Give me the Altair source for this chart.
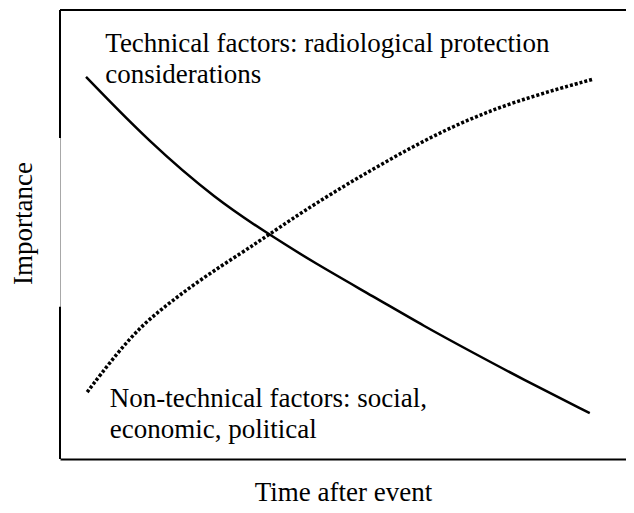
import altair as alt
import pandas as pd

# Technical factors curve (falls with time)
tech_time = [4.6, 15.9, 27.7, 36.6, 44.9, 55.5, 64.3, 73.1, 81.4, 93.6]
tech_imp = [85.1, 70.4, 57.7, 50.3, 43.7, 36.1, 29.6, 23.6, 18.0, 10.2]

# Non-technical factors curve (rises with time)
non_time = [4.8, 7.1, 10.6, 14.1, 17.7, 24.7, 32.3, 36.6, 44.9, 56.7, 68.4, 80.2, 94.2]
non_imp = [14.9, 18.7, 24.3, 29.2, 33.2, 39.9, 46.1, 49.7, 56.8, 65.7, 73.7, 79.7, 84.6]

labels = [["Technical factors: radiological protection", "considerations"],
          ["Non-technical factors: social,", "economic, political"]]
label_time = [8.0, 8.8]
label_imp = [90.6, 11.6]

FONT = "Liberation Serif"
FS = 27

tech_df = pd.DataFrame({"time": tech_time, "imp": tech_imp})
non_df = pd.DataFrame({"time": non_time, "imp": non_imp})
lab_df = pd.DataFrame({"label": labels, "time": label_time, "imp": label_imp})

xs = alt.Scale(domain=[0, 100], nice=False, zero=False)
ys = alt.Scale(domain=[0, 100], nice=False, zero=False)

x_axis = alt.Axis(domain=True, domainColor="black", domainWidth=2, ticks=False,
                  labels=False, grid=False, title="Time after event",
                  titleFont=FONT, titleFontSize=FS, titleFontWeight="normal",
                  titleColor="black", titleY=41, titleBaseline="alphabetic")
y_axis = alt.Axis(domain=True, domainColor="#a8a8a8", domainWidth=1, ticks=False,
                  labels=False, grid=False, title="Importance",
                  titleFont=FONT, titleFontSize=FS, titleFontWeight="normal",
                  titleColor="black", titleX=-29, titleY=213, titleAngle=270,
                  titleAlign="center", titleBaseline="alphabetic")

tech = alt.Chart(tech_df).mark_line(color="black", strokeWidth=2.5, interpolate="basis").encode(
    x=alt.X("time:Q", scale=xs, axis=x_axis),
    y=alt.Y("imp:Q", scale=ys, axis=y_axis),
)
non = alt.Chart(non_df).mark_line(color="black", strokeWidth=3.5, strokeDash=[3, 2],
                                  strokeCap="butt", interpolate="basis").encode(
    x=alt.X("time:Q", scale=xs),
    y=alt.Y("imp:Q", scale=ys),
)
text = alt.Chart(lab_df).mark_text(font=FONT, fontSize=FS, align="left",
                                   baseline="alphabetic", lineHeight=31, color="black").encode(
    x=alt.X("time:Q", scale=xs),
    y=alt.Y("imp:Q", scale=ys),
    text="label",
)

# frame: top edge and the dark parts of the left edge
top = alt.Chart().mark_rule(color="black", strokeWidth=2).encode(
    x=alt.X(datum=0), x2=alt.X2(datum=100), y=alt.Y(datum=100))
left_top = alt.Chart().mark_rule(color="black", strokeWidth=2).encode(
    x=alt.X(datum=0), y=alt.Y(datum=100), y2=alt.Y2(datum=71.5))
left_bot = alt.Chart().mark_rule(color="black", strokeWidth=2).encode(
    x=alt.X(datum=0), y=alt.Y(datum=33.9), y2=alt.Y2(datum=0))

chart = alt.layer(tech, non, text, top, left_top, left_bot).properties(
    width=566, height=449,
    autosize=alt.AutoSizeParams(type="none"),
    padding={"left": 52, "top": 2, "right": 0, "bottom": 46},
).configure_view(stroke=None)

chart.save("out.html", embed_options={"renderer": "svg", "actions": False})
